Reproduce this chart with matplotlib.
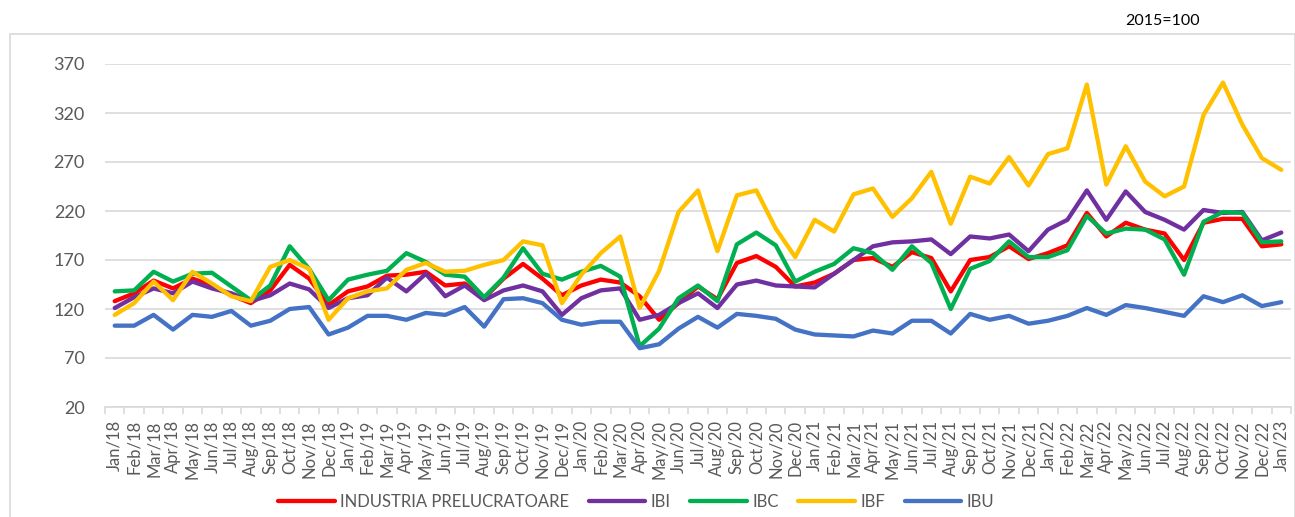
import matplotlib
matplotlib.use("Agg")
import matplotlib.pyplot as plt
from matplotlib.patches import Rectangle
from matplotlib.ticker import FixedLocator, NullFormatter

plt.rcParams['font.family'] = ['Lato', 'DejaVu Sans']

months = ["Jan", "Feb", "Mar", "Apr", "May", "Jun", "Jul", "Aug", "Sep", "Oct", "Nov", "Dec"]
years = ["18", "19", "20", "21", "22"]
labels = [f"{m}/{y}" for y in years for m in months] + ["Jan/23"]

industria = [128, 136, 149, 141, 151, 144, 134, 126, 139, 165, 151, 124,
             138, 143, 154, 155, 158, 144, 146, 131, 151, 166, 151, 134,
             144, 150, 147, 133, 109, 126, 143, 130, 167, 174, 163, 143,
             147, 156, 170, 172, 163, 178, 172, 138, 170, 173, 184, 171,
             177, 185, 218, 194, 208, 201, 197, 170, 208, 212, 212, 184,
             186]
ibi = [121, 132, 141, 136, 148, 141, 136, 128, 134, 146, 140, 121,
       131, 134, 152, 138, 156, 133, 144, 129, 139, 144, 138, 114,
       131, 139, 141, 109, 114, 126, 136, 121, 145, 149, 144, 143,
       142, 156, 170, 184, 188, 189, 191, 176, 194, 192, 196, 179,
       201, 211, 241, 211, 240, 219, 211, 201, 221, 218, 219, 190,
       198]
ibc = [138, 139, 158, 148, 156, 157, 143, 129, 144, 184, 161, 129,
       150, 155, 159, 177, 168, 155, 153, 132, 152, 182, 156, 150,
       158, 164, 153, 82, 100, 131, 144, 128, 186, 198, 185, 148,
       158, 166, 182, 177, 160, 184, 167, 120, 161, 169, 189, 173,
       173, 180, 215, 197, 202, 201, 191, 155, 209, 219, 218, 188,
       189]
ibf = [114, 126, 148, 129, 158, 146, 133, 128, 163, 170, 161, 109,
       131, 138, 141, 160, 167, 158, 159, 165, 170, 189, 185, 126,
       155, 177, 194, 121, 159, 219, 241, 179, 236, 241, 202, 173,
       211, 199, 237, 243, 214, 233, 260, 207, 255, 248, 275, 246,
       278, 284, 349, 247, 286, 250, 235, 245, 318, 351, 308, 274,
       262]
ibu = [103, 103, 114, 99, 114, 112, 118, 103, 108, 120, 122, 94,
       101, 113, 113, 109, 116, 114, 122, 102, 130, 131, 126, 109,
       104, 107, 107, 80, 84, 100, 112, 101, 115, 113, 110, 99,
       94, 93, 92, 98, 95, 108, 108, 95, 115, 109, 113, 105,
       108, 113, 121, 114, 124, 121, 117, 113, 133, 127, 134, 123,
       127]

series_names = ["INDUSTRIA PRELUCRATOARE", "IBI", "IBC", "IBF", "IBU"]
series_values = [industria, ibi, ibc, ibf, ibu]
series_colors = ["#FF0000", "#7030A0", "#00B050", "#FFC000", "#4472C4"]

yticks = [20, 70, 120, 170, 220, 270, 320, 370]

W, H = 1295, 517
fig = plt.figure(figsize=(W / 100, H / 100), dpi=100)
ax = fig.add_axes([105 / W, (H - 407) / H, 1186 / W, 343 / H])

x = list(range(len(labels)))
for name, vals, col in zip(series_names, series_values, series_colors):
    ax.plot(x, vals, color=col, lw=3.1, label=name,
            solid_joinstyle='round', solid_capstyle='round')

ax.set_xlim(-0.5, len(labels) - 0.5)
ax.set_ylim(20, 370)
ax.set_yticks(yticks)
ax.grid(axis='y', color='#D9D9D9', lw=1.2)
ax.set_axisbelow(True)
for s in ['top', 'right', 'left']:
    ax.spines[s].set_visible(False)
ax.spines['bottom'].set_color('#D9D9D9')
ax.spines['bottom'].set_linewidth(1.2)

ax.set_xticks(x)
ax.set_xticklabels(labels, rotation=90, fontsize=12, color='#595959')
ax.tick_params(axis='x', which='major', length=0, pad=9.5)
ax.xaxis.set_minor_locator(FixedLocator([i - 0.5 for i in range(len(labels) + 1)]))
ax.xaxis.set_minor_formatter(NullFormatter())
ax.tick_params(axis='x', which='minor', length=5, color='#D9D9D9', width=1.2)
ax.tick_params(axis='y', length=0, pad=14.5, labelsize=13, labelcolor='#595959')

fig.add_artist(Rectangle((10 / W, -0.01), (W - 10.5) / W, (H - 34) / H + 0.01,
                         transform=fig.transFigure, fill=False,
                         edgecolor='#D9D9D9', lw=1.2))

fig.text(1163 / W, 1 - 21 / H, "2015=100", ha='center', va='center',
         fontsize=11.5, color='#000000')

fig.legend(loc='center', bbox_to_anchor=(636 / W, 1 - 502 / H), ncol=5,
           frameon=False, fontsize=12, handlelength=3.4, handletextpad=0.3,
           columnspacing=1.2, labelcolor='#595959')

fig.savefig("out.png", dpi=100)
